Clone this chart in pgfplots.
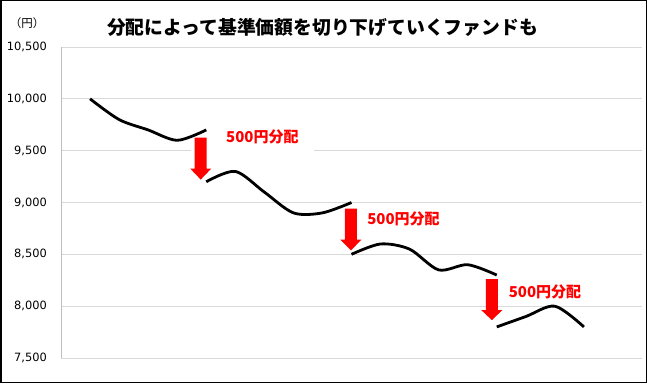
\documentclass[border=0pt]{standalone}
\usepackage{fontspec}
\setmainfont{DejaVu Sans}
\newfontfamily\jp{Noto Sans CJK JP}
\usepackage{pgfplots}
\pgfplotsset{compat=1.18}
\definecolor{gridgray}{HTML}{D9D9D9}
\definecolor{axgray}{HTML}{BFBFBF}
\begin{document}
\begin{tikzpicture}[x=1bp,y=1bp]
\draw[black,line width=1.5bp] (0.75,0.75) rectangle (646.25,382.25);
\node[font=\jp\bfseries\fontsize{18.8bp}{22bp}\selectfont] at (322.5,356) {分配によって基準価額を切り下げていくファンドも};
\node[font=\jp\fontsize{11.5bp}{13bp}\selectfont] at (27,360) {（円）};
\begin{axis}[
  at={(61bp,25bp)}, anchor=south west,
  scale only axis, width=581bp, height=311bp,
  xmin=-1, xmax=19, ymin=7500, ymax=10500,
  xtick=\empty,
  ytick={7500,8000,8500,9000,9500,10000,10500},
  scaled y ticks=false,
  /pgf/number format/assume math mode=true,
  /pgf/number format/1000 sep={,},
  yticklabel style={font=\fontsize{11.4bp}{13bp}\selectfont, inner sep=0pt, anchor=east, xshift=-14bp},
  ymajorgrids, grid style={gridgray, line width=0.8bp},
  axis x line=none,
  axis y line=left,
  y axis line style={axgray, line width=0.8bp, -},
  major tick length=0pt,
  clip=false,
]
\fill[white] (axis cs:3.48,9474) rectangle (axis cs:7.72,9567);
\addplot[black, line width=2.8bp, smooth] coordinates {(0,10000) (1,9800) (2,9700) (3,9600) (4,9700)};
\addplot[black, line width=2.8bp, smooth] coordinates {(4,9200) (5,9300) (6,9100) (7,8900) (8,8900) (9,9000)};
\addplot[black, line width=2.8bp, smooth] coordinates {(9,8500) (10,8600) (11,8550) (12,8350) (13,8400) (14,8300)};
\addplot[black, line width=2.8bp, smooth] coordinates {(14,7800) (15,7900) (16,8000) (17,7800)};
\fill[red] (axis cs:3.603,9625) -- (axis cs:4.017,9625) -- (axis cs:4.017,9327) -- (axis cs:4.172,9327) -- (axis cs:3.81,9221) -- (axis cs:3.448,9327) -- (axis cs:3.603,9327) -- cycle;
\fill[red] (axis cs:8.773,8942) -- (axis cs:9.187,8942) -- (axis cs:9.187,8641) -- (axis cs:9.342,8641) -- (axis cs:8.98,8538) -- (axis cs:8.618,8641) -- (axis cs:8.773,8641) -- cycle;
\fill[red] (axis cs:13.623,8260) -- (axis cs:14.037,8260) -- (axis cs:14.037,7962) -- (axis cs:14.192,7962) -- (axis cs:13.83,7865) -- (axis cs:13.468,7962) -- (axis cs:13.623,7962) -- cycle;
\node[red, font=\jp\bfseries\fontsize{15bp}{17bp}\selectfont] at (axis cs:5.93,9628) {500円分配};
\node[red, font=\jp\bfseries\fontsize{15bp}{17bp}\selectfont] at (axis cs:10.79,8839) {500円分配};
\node[red, font=\jp\bfseries\fontsize{15bp}{17bp}\selectfont] at (axis cs:15.66,8142) {500円分配};
\end{axis}
\end{tikzpicture}
\end{document}
